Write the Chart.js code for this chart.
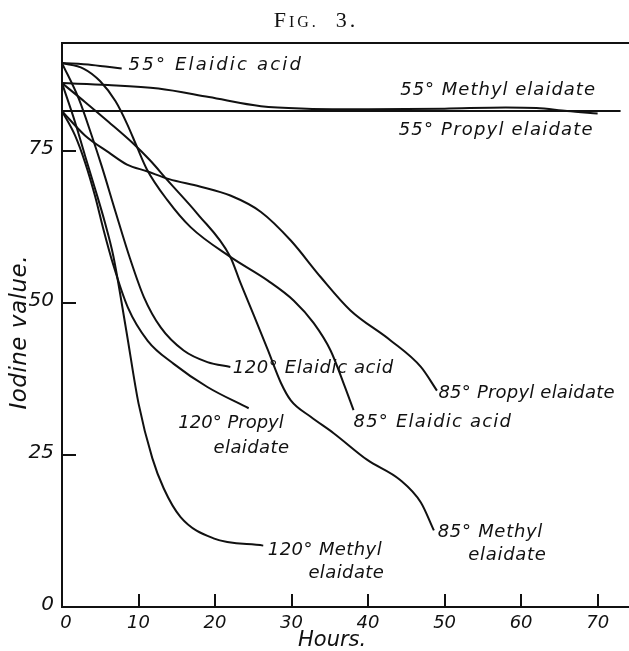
<!DOCTYPE html>
<html>
<head>
<meta charset="utf-8">
<script src="https://cdn.jsdelivr.net/npm/chart.js@4/dist/chart.umd.min.js"></script>
<style>
  html, body { margin: 0; padding: 0; background: #fff; }
  #wrap { width: 629px; height: 651px; }
</style>
</head>
<body>
<div id="wrap"><canvas id="fig"></canvas></div>
<script>
const el55Hours = [0, 3.9, 7.8];
const el55Iv    = [89.5, 89.2, 88.6];
const me55Hours = [0, 6, 12.6, 19.2, 26, 32, 40, 50, 58, 62, 66, 70];
const me55Iv    = [86.2, 85.9, 85.3, 83.9, 82.4, 82.0, 81.9, 82.0, 82.2, 82.1, 81.6, 81.2];
const pr55Hours = [0, 73];
const pr55Iv    = [81.6, 81.6];

const el85Hours = [0, 2.8, 5, 7, 8.5, 9.8, 11.1, 13.8, 16.8, 22, 26.9, 30.3, 32.9, 35.1, 36.8, 38.1];
const el85Iv    = [89.5, 88.6, 86.5, 83.2, 79.5, 75.7, 72, 66.9, 62.5, 57.6, 53.7, 50.4, 46.7, 42.2, 36.8, 32.4];
const me85Hours = [0, 3, 6.1, 9.1, 11.5, 13.8, 17.7, 22, 23.3, 25.1, 26.9, 28.6, 29.9, 32.5, 35.5, 39.9, 44.2, 46.9, 48.6];
const me85Iv    = [86.2, 83.1, 79.8, 76.5, 73.5, 70.2, 64.7, 57.6, 53.4, 47.9, 42.3, 36.9, 34.0, 31.3, 28.6, 24.2, 20.9, 17.2, 12.6];
const pr85Hours = [0, 3, 6.1, 8.5, 11.1, 14, 18, 22, 26, 29.9, 33.8, 37.7, 42.9, 46.9, 49];
const pr85Iv    = [81.6, 77.6, 74.8, 72.8, 71.7, 70.4, 69.2, 67.7, 65, 60.3, 54.3, 48.8, 43.9, 39.5, 35.6];

const el120Hours = [0, 2.2, 3.9, 5.2, 7, 8.9, 10.7, 12.9, 15.9, 19, 22];
const el120Iv    = [89.5, 83.6, 77.5, 72.5, 65, 57.3, 51, 46, 42.2, 40.3, 39.5];
const me120Hours = [0, 1.7, 3, 4.3, 5.6, 6.7, 8.4, 10, 11.8, 13.3, 15.5, 19.8, 26.3];
const me120Iv    = [86.2, 79.8, 74.3, 68.9, 63.3, 57.8, 45.5, 33.5, 24.5, 19.5, 14.8, 11.3, 10.1];
const pr120Hours = [0, 1.7, 3, 4.3, 5.4, 6.7, 8.6, 11.2, 14.6, 19, 24.4];
const pr120Iv    = [81.6, 77.6, 73.2, 67.7, 62.2, 56.3, 49.3, 43.8, 40, 36.2, 32.7];

const xTicks = [0, 10, 20, 30, 40, 50, 60, 70];
const yTicks = [0, 25, 50, 75];

const ink = '#111';
const lettering = '"DejaVu Sans", sans-serif';

function pts(hours, iv) {
  return hours.map((h, i) => ({ x: h, y: iv[i] }));
}

function curve(label, hours, iv) {
  return {
    label: label,
    data: pts(hours, iv),
    borderColor: ink,
    borderWidth: 2,
    pointRadius: 0,
    fill: false,
    cubicInterpolationMode: 'monotone'
  };
}

// curve captions: text, left edge (h), vertical middle (iodine value), letter spacing
const captions = [
  ['55° Elaidic acid', 8.7, 89.1, 2.2],
  ['55° Methyl elaidate', 44.2, 85.0, 1.0],
  ['55° Propyl elaidate', 44.0, 78.4, 1.2],
  ['85° Propyl elaidate', 49.2, 35.1, 0.2],
  ['85° Elaidic acid', 38.1, 30.4, 1.2],
  ['120° Elaidic acid', 22.3, 39.3, 0.6],
  ['120° Propyl', 15.2, 30.2, 0],
  ['elaidate', 19.8, 26.1, 0.4],
  ['120° Methyl', 26.9, 9.3, 0.4],
  ['elaidate', 32.2, 5.5, 0.4],
  ['85° Methyl', 49.1, 12.3, 0.7],
  ['elaidate', 53.1, 8.5, 0.7]
];

const figPlugin = {
  id: 'figFrame',
  afterDraw(chart) {
    const ctx = chart.ctx;
    const a = chart.chartArea;
    const x = chart.scales.x, y = chart.scales.y;
    ctx.save();
    ctx.strokeStyle = ink;
    ctx.fillStyle = ink;
    ctx.lineWidth = 2;

    // frame: top rule, left and bottom axes
    ctx.beginPath();
    ctx.moveTo(chart.width, a.top);
    ctx.lineTo(a.left, a.top);
    ctx.lineTo(a.left, a.bottom);
    ctx.lineTo(chart.width, a.bottom);
    ctx.stroke();

    // inward tick marks
    ctx.beginPath();
    yTicks.forEach(v => {
      if (v === 0) return;
      const py = Math.round(y.getPixelForValue(v));
      ctx.moveTo(a.left, py);
      ctx.lineTo(a.left + 14, py);
    });
    xTicks.forEach(v => {
      if (v === 0) return;
      const px = Math.round(x.getPixelForValue(v));
      ctx.moveTo(px, a.bottom);
      ctx.lineTo(px, a.bottom - 13);
    });
    ctx.stroke();

    // tick labels
    ctx.font = 'oblique 20px ' + lettering;
    ctx.textAlign = 'right';
    ctx.textBaseline = 'middle';
    yTicks.forEach(v => {
      ctx.fillText(String(v), a.left - 8, y.getPixelForValue(v) - 2);
    });
    ctx.font = 'oblique 18px ' + lettering;
    ctx.textAlign = 'center';
    xTicks.forEach(v => {
      const nudge = v === 0 ? 4 : 0;
      ctx.fillText(String(v), x.getPixelForValue(v) + nudge, a.bottom + 16);
    });

    // axis titles
    ctx.font = 'oblique 21px ' + lettering;
    ctx.fillText('Hours.', x.getPixelForValue(35.3), a.bottom + 34);
    ctx.save();
    ctx.translate(20, y.getPixelForValue(45.2));
    ctx.rotate(-Math.PI / 2);
    ctx.font = 'oblique 23px ' + lettering;
    ctx.letterSpacing = '0.5px';
    ctx.fillText('Iodine value.', 0, 0);
    ctx.restore();

    // curve captions
    ctx.font = 'oblique 18px ' + lettering;
    ctx.textAlign = 'left';
    captions.forEach(([t, h, v, sp]) => {
      ctx.letterSpacing = sp + 'px';
      ctx.fillText(t, x.getPixelForValue(h), y.getPixelForValue(v));
    });
    ctx.letterSpacing = '0px';

    // figure heading in small capitals
    const big = '22px "Liberation Serif", serif';
    const small = '16px "Liberation Serif", serif';
    const parts = [['F', big], ['IG.', small], ['  3.', big]];
    ctx.letterSpacing = '3px';
    let w = 0;
    parts.forEach(([t, f]) => { ctx.font = f; w += ctx.measureText(t).width; });
    let cx = 316 - w / 2;
    ctx.textBaseline = 'alphabetic';
    parts.forEach(([t, f]) => {
      ctx.font = f;
      ctx.fillText(t, cx, 27);
      cx += ctx.measureText(t).width;
    });
    ctx.restore();
  }
};

new Chart(document.getElementById('fig'), {
  type: 'line',
  data: {
    datasets: [
      curve('55° Elaidic acid', el55Hours, el55Iv),
      curve('55° Methyl elaidate', me55Hours, me55Iv),
      curve('55° Propyl elaidate', pr55Hours, pr55Iv),
      curve('85° Elaidic acid', el85Hours, el85Iv),
      curve('85° Methyl elaidate', me85Hours, me85Iv),
      curve('85° Propyl elaidate', pr85Hours, pr85Iv),
      curve('120° Elaidic acid', el120Hours, el120Iv),
      curve('120° Methyl elaidate', me120Hours, me120Iv),
      curve('120° Propyl elaidate', pr120Hours, pr120Iv)
    ]
  },
  options: {
    responsive: true,
    maintainAspectRatio: false,
    animation: false,
    layout: { padding: { left: 62, top: 43, right: 0, bottom: 44 } },
    plugins: { legend: { display: false }, tooltip: { enabled: false }, title: { display: false } },
    scales: {
      x: { type: 'linear', min: 0, max: 74.1, display: false },
      y: { type: 'linear', min: 0, max: 92.8, display: false }
    }
  },
  plugins: [figPlugin]
});
</script>
</body>
</html>
